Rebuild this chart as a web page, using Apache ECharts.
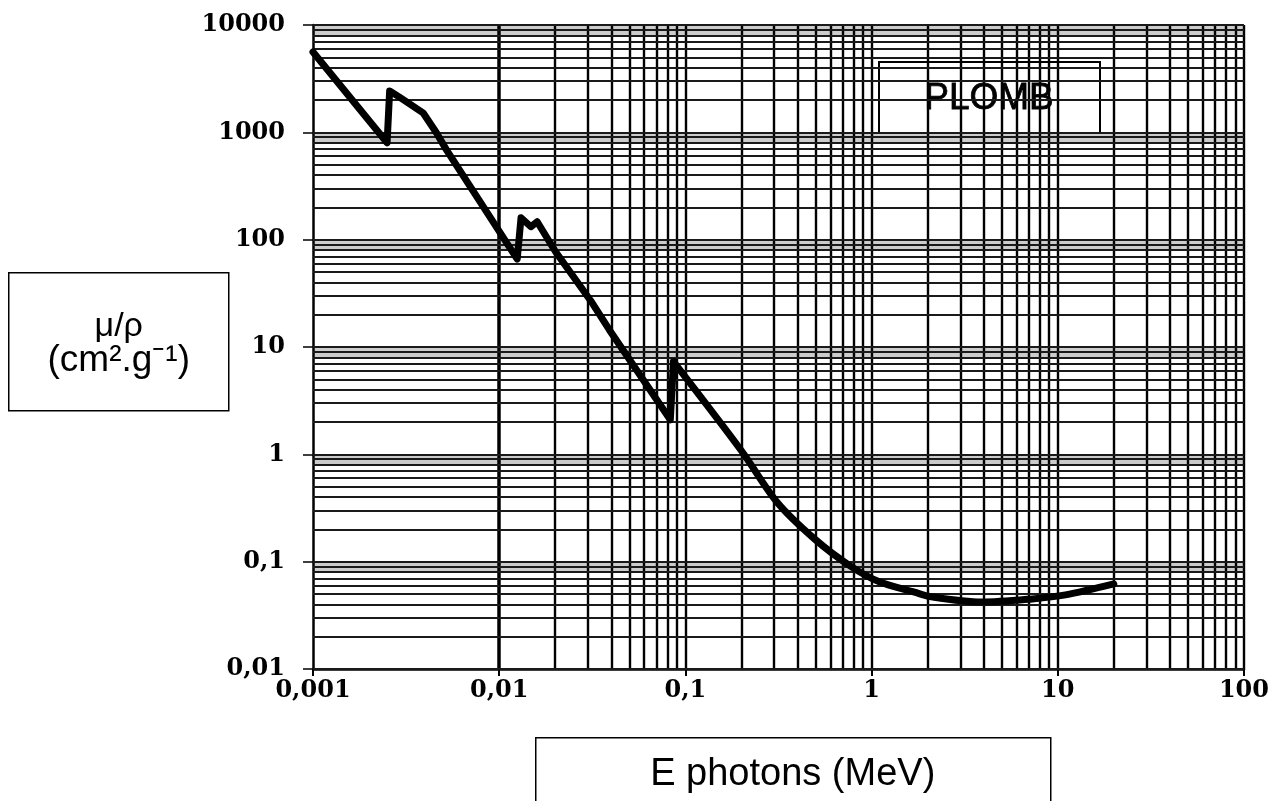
<!DOCTYPE html>
<html>
<head>
<meta charset="utf-8">
<script src="https://cdn.jsdelivr.net/npm/echarts@6/dist/echarts.min.js"></script>
<style>
html,body{margin:0;padding:0;background:#fff;}
#chart{width:1272px;height:801px;}
</style>
</head>
<body>
<div id="chart"></div>
<script>
// Energy of photons (MeV) and mass attenuation coefficient of lead (cm2/g)
// Absorption-edge region (drawn with straight segments)
const energyEdges = [0.001, 0.0025, 0.00258, 0.0029, 0.0039, 0.0046, 0.0052, 0.0125, 0.0131, 0.0148, 0.016, 0.020, 0.031, 0.039, 0.083, 0.0863];
const muRhoEdges  = [5600, 800, 2430, 2140, 1520, 990, 690, 66, 160, 132, 147, 78, 27, 14.5, 2.1, 7.3];
// Smooth high-energy region
const energyTail = [0.0863, 0.20, 0.31, 0.50, 0.77, 1.1, 1.7, 2.1, 3.9, 7.3, 11, 20];
const muRhoTail  = [7.3, 1.08, 0.36, 0.16, 0.091, 0.065, 0.052, 0.047, 0.042, 0.045, 0.049, 0.062];

const xTickLabels = ['0,001', '0,01', '0,1', '1', '10', '100'];
const yTickLabels = ['0,01', '0,1', '1', '10', '100', '1000', '10000'];
const xDecades = [-3, -2, -1, 0, 1];
const yDecades = [-2, -1, 0, 1, 2, 3];
const gridMultipliers = [1, 2, 3, 4, 5, 6, 7, 8, 9];

const curveEdges = energyEdges.map((e, i) => [e, muRhoEdges[i]]);
const curveTail = energyTail.map((e, i) => [e, muRhoTail[i]]);

const vLines = [];
xDecades.forEach(d => gridMultipliers.forEach(m => vLines.push({ xAxis: m * Math.pow(10, d) })));
vLines.push({ xAxis: 100 });
const hLines = [];
yDecades.forEach(d => gridMultipliers.forEach(m => hLines.push({ yAxis: m * Math.pow(10, d) })));
hLines.push({ yAxis: 10000 });
const bands = [];
yDecades.concat([4]).forEach(d => bands.push([{ yAxis: 0.8 * Math.pow(10, d) }, { yAxis: Math.pow(10, d) }]));

const labelFont = {
  fontFamily: 'DejaVu Serif',
  fontWeight: 'bold',
  fontSize: 24,
  color: '#000'
};

const curveStyle = { color: '#000', width: 7, cap: 'round', join: 'round' };

const chart = echarts.init(document.getElementById('chart'), null, { renderer: 'canvas' });
chart.setOption({
  animation: false,
  backgroundColor: '#fff',
  grid: { left: 313, right: 28, top: 25, bottom: 132 },
  xAxis: {
    type: 'log', logBase: 10, min: 0.001, max: 100, splitNumber: 5,
    axisLine: { show: true, lineStyle: { color: '#000', width: 2.5 } },
    axisTick: { show: true, length: 7, lineStyle: { color: '#000', width: 2 } },
    splitLine: { show: false },
    axisLabel: Object.assign({
      margin: 10,
      formatter: v => xTickLabels[Math.round(Math.log10(v)) + 3]
    }, labelFont)
  },
  yAxis: {
    type: 'log', logBase: 10, min: 0.01, max: 10000, splitNumber: 6,
    axisLine: { show: true, lineStyle: { color: '#000', width: 2.5 } },
    axisTick: { show: true, length: 10, lineStyle: { color: '#000', width: 1.5 } },
    splitLine: { show: false },
    axisLabel: Object.assign({
      margin: 28,
      formatter: v => yTickLabels[Math.round(Math.log10(v)) + 2]
    }, labelFont)
  },
  series: [
    {
      type: 'line', z: 1, data: [], silent: true,
      markArea: {
        silent: true,
        itemStyle: { color: 'rgba(0,0,0,0.2)' },
        data: bands
      },
      markLine: {
        silent: true, symbol: ['none', 'none'], animation: false,
        label: { show: false },
        data: vLines.map(d => Object.assign(d, { lineStyle: { color: '#000', width: 2.4, type: 'solid' } }))
          .concat(hLines.map(d => Object.assign(d, { lineStyle: { color: '#1a1a1a', width: 1.8, type: 'solid' } })))
      }
    },
    {
      type: 'line', z: 5, data: curveEdges, showSymbol: false, symbol: 'none',
      lineStyle: curveStyle
    },
    {
      type: 'line', z: 5, data: curveTail, showSymbol: false, symbol: 'none',
      smooth: 0.3,
      lineStyle: curveStyle
    }
  ],
  graphic: [
    {
      type: 'group', left: 878, top: 61, z: 100,
      children: [
        { type: 'rect', shape: { x: 0, y: 0, width: 221, height: 71 }, style: { fill: '#fff', stroke: '#000', lineWidth: 2 } },
        { type: 'text', x: 110, y: 37, style: { text: 'PLOMB', fontFamily: 'Liberation Sans', fontSize: 37, fill: '#000', stroke: '#000', lineWidth: 0.8, textAlign: 'center', textVerticalAlign: 'middle' } }
      ]
    },
    {
      type: 'group', left: 8, top: 272, z: 100,
      children: [
        { type: 'rect', shape: { x: 0, y: 0, width: 220, height: 138 }, style: { fill: '#fff', stroke: '#000', lineWidth: 1.5 } },
        { type: 'text', x: 110, y: 54, style: { text: 'μ/ρ', fontFamily: 'Liberation Sans', fontSize: 34, fill: '#000', textAlign: 'center', textVerticalAlign: 'middle' } },
        { type: 'text', x: 110, y: 88, style: { text: '(cm².g⁻¹)', fontFamily: 'Liberation Sans', fontSize: 37, fill: '#000', textAlign: 'center', textVerticalAlign: 'middle' } }
      ]
    },
    {
      type: 'group', left: 535, top: 737, z: 100,
      children: [
        { type: 'rect', shape: { x: 0, y: 0, width: 515, height: 80 }, style: { fill: '#fff', stroke: '#000', lineWidth: 1.5 } },
        { type: 'text', x: 257, y: 37, style: { text: 'E photons (MeV)', fontFamily: 'Liberation Sans', fontSize: 38, fill: '#000', textAlign: 'center', textVerticalAlign: 'middle' } }
      ]
    }
  ]
});
</script>
</body>
</html>
